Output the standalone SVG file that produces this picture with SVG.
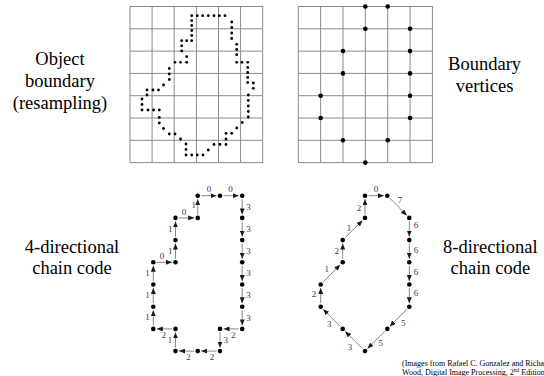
<svg xmlns="http://www.w3.org/2000/svg" width="544" height="376" viewBox="0 0 544 376">
<defs>
<marker id="ah" markerUnits="userSpaceOnUse" markerWidth="6" markerHeight="5" viewBox="0 0 6 5" refX="6" refY="2.5" orient="auto">
<path d="M0,0 L6,2.5 L0,5 z" fill="#1a1a1a"/>
</marker>
</defs>
<style>
.bg{fill:#ffffff}
.grid{fill:none;stroke:#8a8a8a;stroke-width:1}
.sd{fill:#000}
.vx{fill:#000}
.nd{fill:#000}
.cn line{stroke:#6a6a6a;stroke-width:0.8;marker-end:url(#ah)}
.lbl{font-family:"Liberation Serif","Times New Roman",serif;font-size:18.5px;fill:#000;text-anchor:middle}
.dg{font-family:"Liberation Serif","Times New Roman",serif;font-size:9px;fill:#3a3a3a;text-anchor:middle}
.cap{font-family:"Liberation Serif","Times New Roman",serif;font-size:8px;fill:#000}
</style>
<rect class="bg" x="0" y="0" width="544" height="376"/>

<!-- Top-left: object boundary grid -->
<g id="resampling-grid">
<rect class="grid" x="130" y="6.5" width="132.7" height="156.1"/>
<path class="grid" d="M152.1,6.5V162.6M174.2,6.5V162.6M196.4,6.5V162.6M218.5,6.5V162.6M240.6,6.5V162.6M130,28.8H262.7M130,51.1H262.7M130,73.4H262.7M130,95.7H262.7M130,118H262.7M130,140.3H262.7"/>
<g id="boundary-dots">
<circle class="sd" cx="191.7" cy="15.7" r="1.4"/><circle class="sd" cx="197.3" cy="15.7" r="1.4"/><circle class="sd" cx="202.7" cy="15.7" r="1.4"/><circle class="sd" cx="208.3" cy="15.7" r="1.4"/><circle class="sd" cx="214" cy="15.7" r="1.4"/><circle class="sd" cx="219.3" cy="15.7" r="1.4"/><circle class="sd" cx="225" cy="15.7" r="1.4"/>
<circle class="sd" cx="231.7" cy="22" r="1.4"/><circle class="sd" cx="231.7" cy="27.5" r="1.4"/><circle class="sd" cx="231.7" cy="33" r="1.4"/><circle class="sd" cx="231.7" cy="38.5" r="1.4"/>
<circle class="sd" cx="236.7" cy="44.3" r="1.4"/><circle class="sd" cx="236.7" cy="49.5" r="1.4"/><circle class="sd" cx="236.7" cy="54.7" r="1.4"/><circle class="sd" cx="236.7" cy="62.3" r="1.4"/><circle class="sd" cx="242" cy="62.3" r="1.4"/><circle class="sd" cx="247.7" cy="62.3" r="1.4"/>
<circle class="sd" cx="247.7" cy="67.5" r="1.4"/><circle class="sd" cx="247.7" cy="72.5" r="1.4"/><circle class="sd" cx="247.7" cy="77.5" r="1.4"/><circle class="sd" cx="247.7" cy="82.5" r="1.4"/>
<circle class="sd" cx="253.3" cy="83" r="1.4"/><circle class="sd" cx="253.3" cy="88.3" r="1.4"/>
<circle class="sd" cx="248.3" cy="95" r="1.4"/><circle class="sd" cx="248.3" cy="100.5" r="1.4"/><circle class="sd" cx="248.3" cy="106" r="1.4"/><circle class="sd" cx="248.3" cy="111.5" r="1.4"/><circle class="sd" cx="248.3" cy="117" r="1.4"/>
<circle class="sd" cx="242.3" cy="122.5" r="1.4"/><circle class="sd" cx="236.7" cy="128" r="1.4"/><circle class="sd" cx="231.7" cy="133.3" r="1.4"/><circle class="sd" cx="226" cy="133.3" r="1.4"/><circle class="sd" cx="226" cy="139" r="1.4"/><circle class="sd" cx="226" cy="144.5" r="1.4"/><circle class="sd" cx="220" cy="144.5" r="1.4"/><circle class="sd" cx="214" cy="144.5" r="1.4"/>
<circle class="sd" cx="208.3" cy="150" r="1.4"/><circle class="sd" cx="203" cy="155" r="1.4"/><circle class="sd" cx="197.3" cy="155" r="1.4"/><circle class="sd" cx="191.7" cy="155" r="1.4"/><circle class="sd" cx="186" cy="155" r="1.4"/><circle class="sd" cx="186" cy="149.5" r="1.4"/><circle class="sd" cx="186" cy="144" r="1.4"/>
<circle class="sd" cx="180.5" cy="139" r="1.4"/><circle class="sd" cx="175" cy="134" r="1.4"/><circle class="sd" cx="169.3" cy="134" r="1.4"/><circle class="sd" cx="163.5" cy="128.5" r="1.4"/><circle class="sd" cx="159.3" cy="123" r="1.4"/><circle class="sd" cx="159.3" cy="117.5" r="1.4"/><circle class="sd" cx="159.3" cy="110" r="1.4"/>
<circle class="sd" cx="153.5" cy="110" r="1.4"/><circle class="sd" cx="148" cy="110" r="1.4"/><circle class="sd" cx="142" cy="110" r="1.4"/><circle class="sd" cx="142" cy="104.5" r="1.4"/><circle class="sd" cx="142" cy="99" r="1.4"/><circle class="sd" cx="147" cy="95" r="1.4"/><circle class="sd" cx="147" cy="90" r="1.4"/><circle class="sd" cx="153" cy="90" r="1.4"/><circle class="sd" cx="158.5" cy="90" r="1.4"/>
<circle class="sd" cx="163.5" cy="85" r="1.4"/><circle class="sd" cx="169.3" cy="79.5" r="1.4"/><circle class="sd" cx="169.3" cy="74" r="1.4"/><circle class="sd" cx="169.3" cy="68.5" r="1.4"/><circle class="sd" cx="175" cy="62.3" r="1.4"/><circle class="sd" cx="180.5" cy="62.3" r="1.4"/><circle class="sd" cx="186.7" cy="62.3" r="1.4"/><circle class="sd" cx="186.7" cy="56.7" r="1.4"/>
<circle class="sd" cx="181.7" cy="51" r="1.4"/><circle class="sd" cx="181.7" cy="45.8" r="1.4"/><circle class="sd" cx="181.7" cy="40.7" r="1.4"/><circle class="sd" cx="186.7" cy="40.7" r="1.4"/><circle class="sd" cx="191.7" cy="40.7" r="1.4"/>
<circle class="sd" cx="191.7" cy="35.5" r="1.4"/><circle class="sd" cx="191.7" cy="30.5" r="1.4"/><circle class="sd" cx="191.7" cy="25.5" r="1.4"/><circle class="sd" cx="191.7" cy="20.6" r="1.4"/>
</g>
</g>

<!-- Top-right: boundary vertices grid -->
<g id="vertices-grid">
<rect class="grid" x="298.3" y="6.5" width="134.1" height="156.1"/>
<path class="grid" d="M320.65,6.5V162.6M343,6.5V162.6M365.35,6.5V162.6M387.7,6.5V162.6M410.05,6.5V162.6M298.3,28.8H432.4M298.3,51.1H432.4M298.3,73.4H432.4M298.3,95.7H432.4M298.3,118H432.4M298.3,140.3H432.4"/>
<g id="vertices">
<circle class="vx" cx="365.35" cy="6.5" r="2.3"/><circle class="vx" cx="387.7" cy="6.5" r="2.3"/>
<circle class="vx" cx="365.35" cy="28.8" r="2.3"/><circle class="vx" cx="410.05" cy="28.8" r="2.3"/>
<circle class="vx" cx="343" cy="51.1" r="2.3"/><circle class="vx" cx="410.05" cy="51.1" r="2.3"/>
<circle class="vx" cx="343" cy="73.4" r="2.3"/><circle class="vx" cx="410.05" cy="73.4" r="2.3"/>
<circle class="vx" cx="320.65" cy="95.7" r="2.3"/><circle class="vx" cx="410.05" cy="95.7" r="2.3"/>
<circle class="vx" cx="320.65" cy="118" r="2.3"/><circle class="vx" cx="410.05" cy="118" r="2.3"/>
<circle class="vx" cx="343" cy="140.3" r="2.3"/><circle class="vx" cx="387.7" cy="140.3" r="2.3"/>
<circle class="vx" cx="365.35" cy="162.6" r="2.3"/>
</g>
</g>

<!-- Bottom-left: 4-directional chain code -->
<g id="chain4">
<g id="chain4-connectors" class="cn">
<line x1="201.2" y1="195.7" x2="216.5" y2="195.7"/>
<line x1="223.5" y1="195.7" x2="238.7" y2="195.7"/>
<line x1="242.2" y1="199.2" x2="242.2" y2="214.4"/>
<line x1="242.2" y1="221.4" x2="242.2" y2="236.6"/>
<line x1="242.2" y1="243.6" x2="242.2" y2="258.8"/>
<line x1="242.2" y1="265.8" x2="242.2" y2="281"/>
<line x1="242.2" y1="288" x2="242.2" y2="303.2"/>
<line x1="242.2" y1="310.2" x2="242.2" y2="325.4"/>
<line x1="238.7" y1="328.9" x2="223.5" y2="328.9"/>
<line x1="220" y1="332.4" x2="220" y2="347.6"/>
<line x1="216.5" y1="351.1" x2="201.2" y2="351.1"/>
<line x1="194.2" y1="351.1" x2="179" y2="351.1"/>
<line x1="175.5" y1="347.6" x2="175.5" y2="332.4"/>
<line x1="172" y1="328.9" x2="156.8" y2="328.9"/>
<line x1="153.3" y1="325.4" x2="153.3" y2="310.2"/>
<line x1="153.3" y1="303.2" x2="153.3" y2="288"/>
<line x1="153.3" y1="281" x2="153.3" y2="265.8"/>
<line x1="156.8" y1="262.3" x2="172" y2="262.3"/>
<line x1="175.5" y1="258.8" x2="175.5" y2="243.6"/>
<line x1="175.5" y1="236.6" x2="175.5" y2="221.4"/>
<line x1="179" y1="217.9" x2="194.2" y2="217.9"/>
<line x1="197.7" y1="214.4" x2="197.7" y2="199.2"/>
</g>
<g id="chain4-nodes">
<circle class="nd" cx="197.7" cy="195.7" r="2.3"/><circle class="nd" cx="220" cy="195.7" r="2.3"/><circle class="nd" cx="242.2" cy="195.7" r="2.3"/>
<circle class="nd" cx="242.2" cy="217.9" r="2.3"/><circle class="nd" cx="242.2" cy="240.1" r="2.3"/><circle class="nd" cx="242.2" cy="262.3" r="2.3"/><circle class="nd" cx="242.2" cy="284.5" r="2.3"/><circle class="nd" cx="242.2" cy="306.7" r="2.3"/><circle class="nd" cx="242.2" cy="328.9" r="2.3"/>
<circle class="nd" cx="220" cy="328.9" r="2.3"/><circle class="nd" cx="220" cy="351.1" r="2.3"/><circle class="nd" cx="197.7" cy="351.1" r="2.3"/><circle class="nd" cx="175.5" cy="351.1" r="2.3"/><circle class="nd" cx="175.5" cy="328.9" r="2.3"/>
<circle class="nd" cx="153.3" cy="328.9" r="2.3"/><circle class="nd" cx="153.3" cy="306.7" r="2.3"/><circle class="nd" cx="153.3" cy="284.5" r="2.3"/><circle class="nd" cx="153.3" cy="262.3" r="2.3"/>
<circle class="nd" cx="175.5" cy="262.3" r="2.3"/><circle class="nd" cx="175.5" cy="240.1" r="2.3"/><circle class="nd" cx="175.5" cy="217.9" r="2.3"/><circle class="nd" cx="197.7" cy="217.9" r="2.3"/>
</g>
<g id="chain4-labels">
<text class="dg" x="209" y="192.4">0</text><text class="dg" x="230.5" y="192.4">0</text>
<text class="dg" x="248.6" y="209.5">3</text><text class="dg" x="248.6" y="231.7">3</text><text class="dg" x="248.6" y="253.9">3</text><text class="dg" x="248.6" y="276.1">3</text><text class="dg" x="248.6" y="298.3">3</text><text class="dg" x="248.6" y="320.5">3</text>
<text class="dg" x="233.3" y="338">2</text><text class="dg" x="225.7" y="343">3</text><text class="dg" x="212" y="360.3">2</text><text class="dg" x="188.6" y="360.3">2</text>
<text class="dg" x="170" y="343">1</text><text class="dg" x="163.8" y="338">2</text>
<text class="dg" x="147.6" y="320.4">1</text><text class="dg" x="147.6" y="298.2">1</text><text class="dg" x="147.6" y="276.3">1</text>
<text class="dg" x="162" y="259">0</text><text class="dg" x="170.3" y="254">1</text><text class="dg" x="170.3" y="232">1</text>
<text class="dg" x="184" y="214.6">0</text><text class="dg" x="193.8" y="207.5">1</text>
</g>
</g>

<!-- Bottom-right: 8-directional chain code -->
<g id="chain8">
<g id="chain8-connectors" class="cn">
<line x1="368.5" y1="195.7" x2="383.8" y2="195.7"/>
<line x1="389.8" y1="198.2" x2="406.8" y2="215.4"/>
<line x1="409.3" y1="221.4" x2="409.3" y2="236.6"/>
<line x1="409.3" y1="243.6" x2="409.3" y2="258.8"/>
<line x1="409.3" y1="265.8" x2="409.3" y2="281"/>
<line x1="409.3" y1="288" x2="409.3" y2="303.2"/>
<line x1="406.8" y1="309.2" x2="389.8" y2="326.4"/>
<line x1="384.8" y1="331.4" x2="367.5" y2="348.6"/>
<line x1="362.5" y1="348.6" x2="345.2" y2="331.4"/>
<line x1="340.2" y1="326.4" x2="323.2" y2="309.2"/>
<line x1="320.7" y1="303.2" x2="320.7" y2="288"/>
<line x1="323.2" y1="282" x2="340.2" y2="264.8"/>
<line x1="342.7" y1="258.8" x2="342.7" y2="243.6"/>
<line x1="345.2" y1="237.6" x2="362.5" y2="220.4"/>
<line x1="365" y1="214.4" x2="365" y2="199.2"/>
</g>
<g id="chain8-nodes">
<circle class="nd" cx="365" cy="195.7" r="2.3"/><circle class="nd" cx="387.3" cy="195.7" r="2.3"/>
<circle class="nd" cx="409.3" cy="217.9" r="2.3"/><circle class="nd" cx="409.3" cy="240.1" r="2.3"/><circle class="nd" cx="409.3" cy="262.3" r="2.3"/><circle class="nd" cx="409.3" cy="284.5" r="2.3"/><circle class="nd" cx="409.3" cy="306.7" r="2.3"/>
<circle class="nd" cx="387.3" cy="328.9" r="2.3"/><circle class="nd" cx="365" cy="351.1" r="2.3"/><circle class="nd" cx="342.7" cy="328.9" r="2.3"/><circle class="nd" cx="320.7" cy="306.7" r="2.3"/>
<circle class="nd" cx="320.7" cy="284.5" r="2.3"/><circle class="nd" cx="342.7" cy="262.3" r="2.3"/><circle class="nd" cx="342.7" cy="240.1" r="2.3"/><circle class="nd" cx="365" cy="217.9" r="2.3"/>
</g>
<g id="chain8-labels">
<text class="dg" x="376" y="192.4">0</text><text class="dg" x="400" y="203">7</text>
<text class="dg" x="416" y="228">6</text><text class="dg" x="416" y="252.5">6</text><text class="dg" x="416" y="274.5">6</text><text class="dg" x="416" y="296.3">6</text>
<text class="dg" x="403.3" y="325.7">5</text><text class="dg" x="380.7" y="346.3">5</text>
<text class="dg" x="350" y="349.7">3</text><text class="dg" x="329.3" y="327">3</text>
<text class="dg" x="314" y="297.3">2</text><text class="dg" x="326.7" y="272">1</text><text class="dg" x="336.7" y="254">2</text><text class="dg" x="349" y="231.3">1</text><text class="dg" x="359" y="210.7">2</text>
</g>
</g>

<!-- Side labels -->
<g id="label-object-boundary">
<text class="lbl" x="60" y="65">Object</text>
<text class="lbl" x="60" y="87">boundary</text>
<text class="lbl" x="60" y="108.5">(resampling)</text>
</g>
<g id="label-boundary-vertices">
<text class="lbl" x="484.6" y="70">Boundary</text>
<text class="lbl" x="484.6" y="92.3">vertices</text>
</g>
<g id="label-4dir">
<text class="lbl" x="72" y="252.5">4-directional</text>
<text class="lbl" x="72" y="274">chain code</text>
</g>
<g id="label-8dir">
<text class="lbl" x="490.3" y="252.5">8-directional</text>
<text class="lbl" x="490.3" y="274">chain code</text>
</g>

<g id="caption">
<text class="cap" x="402" y="365.5">(Images from Rafael C. Gonzalez and Richard</text>
<text class="cap" x="402" y="374.5">Wood, Digital Image Processing, 2<tspan font-size="5.5" dy="-3">nd</tspan><tspan dy="3"> Edition.</tspan></text>
</g>
</svg>
